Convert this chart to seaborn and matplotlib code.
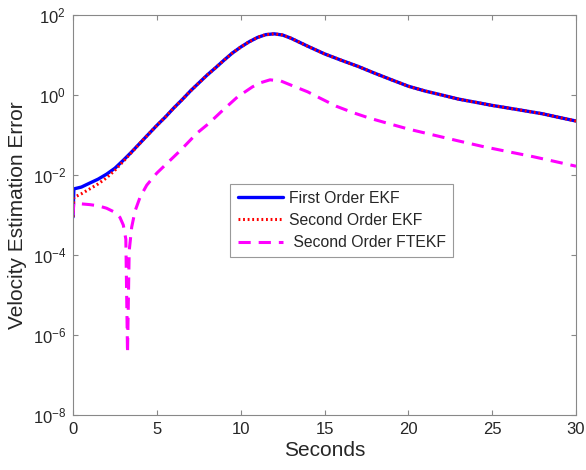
import numpy as np
import pandas as pd
import seaborn as sns
import matplotlib.pyplot as plt

# values (seconds, error)
t_first = [0, 0.05, 0.5, 1, 1.5, 2, 2.5, 3, 3.5, 4, 4.5, 5, 5.5, 6, 6.5, 7, 7.5,
           8, 8.5, 9, 9.5, 10, 10.5, 11, 11.5, 12, 12.5, 13, 13.5, 14, 15, 16,
           17, 18, 19, 20, 21, 22, 23, 24, 25, 26, 27, 28, 29, 30]
err_first = [8.9e-4, 4.5e-3, 5.0e-3, 6.3e-3, 7.9e-3, 1.05e-2, 1.48e-2, 2.34e-2,
             3.8e-2, 6.3e-2, 0.105, 0.174, 0.28, 0.47, 0.76, 1.26, 2.0, 3.16,
             4.8, 7.4, 11.2, 15.8, 21.4, 27.5, 32.4, 33.9, 31.6, 26.3, 20.9,
             16.6, 10.7, 7.4, 5.2, 3.5, 2.4, 1.66, 1.26, 1.0, 0.79, 0.66, 0.55,
             0.47, 0.40, 0.34, 0.275, 0.224]

t_second = [0, 0.05, 0.5, 1, 1.5, 2, 2.5, 3, 3.5, 4, 4.5, 5, 5.5, 6, 6.5, 7, 7.5,
            8, 8.5, 9, 9.5, 10, 10.5, 11, 11.5, 12, 12.5, 13, 13.5, 14, 15, 16,
            17, 18, 19, 20, 21, 22, 23, 24, 25, 26, 27, 28, 29, 30]
err_second = [8.9e-4, 2.75e-3, 3.4e-3, 4.5e-3, 6.0e-3, 8.5e-3, 1.32e-2, 2.2e-2,
              3.7e-2, 6.3e-2, 0.105, 0.174, 0.28, 0.47, 0.76, 1.26, 2.0, 3.16,
              4.8, 7.4, 11.2, 15.8, 21.4, 27.5, 32.4, 33.9, 31.6, 26.3, 20.9,
              16.6, 10.7, 7.4, 5.2, 3.5, 2.4, 1.66, 1.26, 1.0, 0.79, 0.66, 0.55,
              0.47, 0.40, 0.34, 0.275, 0.224]

t_fte = [0, 0.05, 0.5, 1, 1.5, 2, 2.5, 2.8, 3, 3.15, 3.25, 3.35, 3.5, 3.7, 4,
         4.4, 5, 5.6, 6.4, 7.4, 8.1, 8.8, 9.8, 10.7, 11.2, 11.75, 12.4, 13.1,
         14, 14.7, 15.7, 16.7, 17.7, 18.7, 20, 21.5, 23, 24.5, 26, 27.4, 28.7, 30]
err_fte = [1.0e-3, 2.0e-3, 1.9e-3, 1.82e-3, 1.7e-3, 1.48e-3, 1.17e-3, 8.7e-4,
           5.6e-4, 2.5e-4, 3.5e-7, 1.26e-4, 5.0e-4, 1.26e-3, 2.8e-3, 5.6e-3,
           1.12e-2, 1.95e-2, 4.1e-2, 0.112, 0.195, 0.37, 0.89, 1.6, 2.04, 2.4,
           2.24, 1.7, 1.2, 0.85, 0.525, 0.363, 0.263, 0.2, 0.141, 0.1,
           7.1e-2, 5.1e-2, 3.8e-2, 2.9e-2, 2.2e-2, 1.66e-2]

labels = ["First Order EKF", "Second Order EKF", " Second Order FTEKF"]

sns.set_theme(style="white")
plt.rcParams['font.family'] = ['Liberation Sans', 'DejaVu Sans']
plt.rcParams['mathtext.default'] = 'regular'

fig = plt.figure(figsize=(5.86, 4.70), dpi=100)
ax = fig.add_axes([0.1246, 0.117, 0.8584, 0.851])

sns.lineplot(x=t_first, y=err_first, ax=ax, color="#0000ff", lw=2.4,
             label=labels[0], sort=False)
sns.lineplot(x=t_second, y=err_second, ax=ax, color="#ff0000", lw=2.2,
             linestyle=(0, (0.6, 0.9)), label=labels[1], sort=False)
sns.lineplot(x=t_fte, y=err_fte, ax=ax, color="#ff00ff", lw=2.2,
             linestyle=(0, (4, 2.6)), label=labels[2], sort=False)

ax.set_yscale("log")
ax.set_xlim(0, 30)
ax.set_ylim(1e-8, 1e2)
ax.set_xticks([0, 5, 10, 15, 20, 25, 30])
ax.set_yticks([1e-8, 1e-6, 1e-4, 1e-2, 1e0, 1e2])
ax.minorticks_off()
ax.tick_params(direction="in", length=3.6, width=0.8, top=True, right=True,
               bottom=True, left=True, labelsize=12, colors="#888888",
               labelcolor="#262626", pad=5)
for s in ax.spines.values():
    s.set_color("#888888")
    s.set_linewidth(0.8)

ax.set_xlabel("Seconds", fontsize=15, color="#262626", labelpad=3)
ax.set_ylabel("Velocity Estimation Error", fontsize=15, color="#262626", labelpad=4)

leg = ax.legend(loc="upper left", bbox_to_anchor=(0.313, 0.578), fontsize=11.3,
                fancybox=False, edgecolor="#999999", framealpha=1,
                handlelength=2.9, handletextpad=0.4, borderpad=0.45,
                labelspacing=0.45, borderaxespad=0)
leg.get_frame().set_linewidth(0.8)

fig.savefig("out.png", dpi=100)
